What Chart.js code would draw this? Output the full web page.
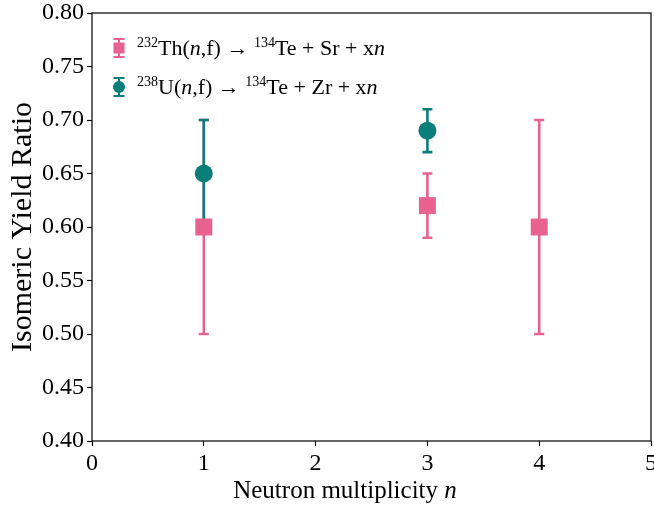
<!DOCTYPE html>
<html>
<head>
<meta charset="utf-8">
<script src="https://cdn.jsdelivr.net/npm/chart.js@4.4.1/dist/chart.umd.min.js"></script>
<style>
html, body { margin: 0; padding: 0; background: #fff; }
#wrap { width: 654px; height: 509px; }
</style>
</head>
<body>
<div id="wrap"><canvas id="chart" width="654" height="509"></canvas></div>
<script>
// values
const thN = [1, 3, 4];
const thRatio = [0.60, 0.62, 0.60];
const thErr = [0.10, 0.03, 0.10];
const uN = [1, 3];
const uRatio = [0.65, 0.69];
const uErr = [0.05, 0.02];
const xTicks = [0, 1, 2, 3, 4, 5];
const yTicks = [0.40, 0.45, 0.50, 0.55, 0.60, 0.65, 0.70, 0.75, 0.80];

// rich text pieces: [text, style]
const thLabel = [['232', 'sup'], ['Th('], ['n', 'it'], [',f) \u2192 '], ['134', 'sup'], ['Te + Sr + x'], ['n', 'it']];
const uLabel = [['238', 'sup'], ['U('], ['n', 'it'], [',f) \u2192 '], ['134', 'sup'], ['Te + Zr + x'], ['n', 'it']];
const xTitle = [['Neutron multiplicity '], ['n', 'it']];
const yTitle = 'Isomeric Yield Ratio';

const PINK = '#e7628f';
const TEAL = '#0b7e79';
const SERIF = '"Liberation Serif", "Times New Roman", serif';

// draw a run of text pieces starting at x, baseline y
function drawRich(ctx, parts, x, y, size) {
    parts.forEach(([t, style]) => {
        let fs = size, dy = 0, it = '';
        if (style === 'sup') { fs = Math.round(size * 0.65); dy = -size * 0.36; }
        if (style === 'it') it = 'italic ';
        ctx.font = `${it}${fs}px ${SERIF}`;
        ctx.fillText(t, x, y + dy);
        x += ctx.measureText(t).width;
    });
    return x;
}
function richWidth(ctx, parts, size) {
    let w = 0;
    parts.forEach(([t, style]) => {
        let fs = style === 'sup' ? Math.round(size * 0.65) : size;
        ctx.font = `${style === 'it' ? 'italic ' : ''}${fs}px ${SERIF}`;
        w += ctx.measureText(t).width;
    });
    return w;
}

function errGlyph(ctx, x, yTop, yBot, cap, color, lw) {
    ctx.strokeStyle = color;
    ctx.lineWidth = lw;
    ctx.beginPath();
    ctx.moveTo(x, yTop); ctx.lineTo(x, yBot);
    ctx.moveTo(x - cap / 2, yTop); ctx.lineTo(x + cap / 2, yTop);
    ctx.moveTo(x - cap / 2, yBot); ctx.lineTo(x + cap / 2, yBot);
    ctx.stroke();
}

// error bars go under the markers
const errorBars = {
    id: 'errorBars',
    beforeDatasetsDraw(chart) {
        const { ctx, scales: { x, y }, chartArea } = chart;
        ctx.save();
        ctx.beginPath();
        ctx.rect(chartArea.left, chartArea.top, chartArea.width, chartArea.height);
        ctx.clip();
        chart.data.datasets.forEach(ds => {
            ds.data.forEach((p, i) => {
                const e = ds.errors[i];
                errGlyph(ctx, x.getPixelForValue(p.x), y.getPixelForValue(p.y + e), y.getPixelForValue(p.y - e), 10, ds.backgroundColor, 2.6);
            });
        });
        ctx.restore();
    }
};

const decorations = {
    id: 'decorations',
    afterDraw(chart) {
        const { ctx, chartArea: a } = chart;
        ctx.save();
        // frame
        ctx.strokeStyle = '#000';
        ctx.lineWidth = 1.2;
        ctx.strokeRect(a.left, a.top, a.width, a.height);

        // x title with italic n
        ctx.fillStyle = '#000';
        ctx.textBaseline = 'alphabetic';
        ctx.textAlign = 'left';
        const w = richWidth(ctx, xTitle, 25);
        drawRich(ctx, xTitle, 345 - w / 2, 498, 25);

        // legend
        const lx = 119;
        const rows = [
            { parts: thLabel, color: PINK, cy: 48, shape: 'rect' },
            { parts: uLabel, color: TEAL, cy: 87, shape: 'circle' }
        ];
        rows.forEach(r => {
            errGlyph(ctx, lx, r.cy - 9, r.cy + 9, 11, r.color, 2);
            ctx.fillStyle = r.color;
            ctx.beginPath();
            if (r.shape === 'rect') ctx.rect(lx - 5.5, r.cy - 5.5, 11, 11);
            else ctx.arc(lx, r.cy, 6, 0, Math.PI * 2);
            ctx.fill();
            ctx.fillStyle = '#000';
            drawRich(ctx, r.parts, 137, r.cy + 7, 22);
        });
        ctx.restore();
    }
};

// drop the automatic label padding so the plot box sits where the reference has it
function noPad(s) { s.paddingLeft = s.paddingRight = s.paddingTop = s.paddingBottom = 0; }

new Chart(document.getElementById('chart'), {
    type: 'scatter',
    data: {
        datasets: [
            {
                label: 'Th',
                data: thN.map((n, i) => ({ x: n, y: thRatio[i] })),
                errors: thErr,
                backgroundColor: PINK,
                borderColor: PINK,
                borderWidth: 0,
                pointStyle: 'rect',
                pointRadius: 12,
                pointHoverRadius: 12
            },
            {
                label: 'U',
                data: uN.map((n, i) => ({ x: n, y: uRatio[i] })),
                errors: uErr,
                backgroundColor: TEAL,
                borderColor: TEAL,
                borderWidth: 0,
                pointStyle: 'circle',
                pointRadius: 9,
                pointHoverRadius: 9
            }
        ]
    },
    options: {
        responsive: false,
        animation: false,
        events: [],
        layout: { autoPadding: false, padding: { top: 13, right: 3, left: 0, bottom: 0 } },
        plugins: { legend: { display: false }, tooltip: { enabled: false } },
        scales: {
            x: {
                type: 'linear',
                min: 0,
                max: 5,
                afterBuildTicks: s => { s.ticks = xTicks.map(v => ({ value: v })); },
                afterFit: s => { s.height = 68; noPad(s); },
                ticks: { color: '#000', font: { family: SERIF, size: 24 }, padding: 3, maxRotation: 0 },
                grid: { drawOnChartArea: false, drawTicks: true, tickLength: 5, tickColor: '#000', tickWidth: 1.2 },
                border: { display: false }
            },
            y: {
                type: 'linear',
                min: 0.4,
                max: 0.8,
                afterBuildTicks: s => { s.ticks = yTicks.map(v => ({ value: v })); },
                afterFit: s => { s.width = 92; noPad(s); },
                ticks: { color: '#000', font: { family: SERIF, size: 24 }, padding: 3, callback: v => v.toFixed(2) },
                grid: { drawOnChartArea: false, drawTicks: true, tickLength: 5, tickColor: '#000', tickWidth: 1.2 },
                border: { display: false },
                title: { display: true, text: yTitle, color: '#000', font: { family: SERIF, size: 30 }, padding: { top: 5, bottom: 0 } }
            }
        }
    },
    plugins: [errorBars, decorations]
});
</script>
</body>
</html>
